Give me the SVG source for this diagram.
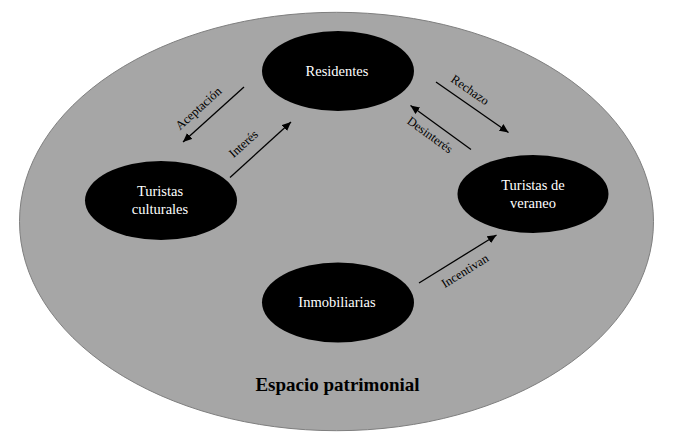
<svg xmlns="http://www.w3.org/2000/svg" width="679" height="444" viewBox="0 0 679 444">
  <style>
    .node { fill: #000000; }
    .ntext { fill: #ffffff; font-size: 14.5px; text-anchor: middle; }
    .conn { stroke: #000000; stroke-width: 1.3; fill: none; marker-end: url(#arr); }
    .ltext { fill: #000000; font-size: 12.5px; text-anchor: middle; }
    .title { fill: #000000; font-size: 19px; font-weight: bold; text-anchor: middle; }
  </style>
  <defs>
    <marker id="arr" markerUnits="userSpaceOnUse" markerWidth="10" markerHeight="8" refX="9" refY="4" orient="auto">
      <path d="M0,0 L9,4 L0,8 Z" fill="#000000"/>
    </marker>
  </defs>
  <rect x="0" y="0" width="679" height="444" fill="#ffffff"/>
  <g id="espacio">
    <ellipse cx="336.5" cy="221.5" rx="317" ry="209.2" fill="#a6a6a6" stroke="#7f7f7f" stroke-width="1"/>
    <text class="title" font-family="'Liberation Serif', 'DejaVu Serif', serif" x="337.5" y="390.5">Espacio patrimonial</text>
  </g>
  <g font-family="'Liberation Serif', 'DejaVu Serif', serif">
  <g id="residentes">
    <ellipse class="node" cx="338" cy="71" rx="76" ry="40"/>
    <text class="ntext" x="337" y="76">Residentes</text>
  </g>
  <g id="turistas-culturales">
    <ellipse class="node" cx="161" cy="200.5" rx="76" ry="39.5"/>
    <text class="ntext" x="160" y="196">Turistas</text>
    <text class="ntext" x="160" y="214">culturales</text>
  </g>
  <g id="turistas-veraneo">
    <ellipse class="node" cx="533" cy="194" rx="75.5" ry="39"/>
    <text class="ntext" x="533" y="190">Turistas de</text>
    <text class="ntext" x="533" y="208">veraneo</text>
  </g>
  <g id="inmobiliarias">
    <ellipse class="node" cx="338" cy="302.5" rx="76" ry="40"/>
    <text class="ntext" x="337" y="307">Inmobiliarias</text>
  </g>
  <g id="connectors">
    <line class="conn" x1="244" y1="87" x2="183" y2="142"/>
    <text class="ltext" transform="translate(198.5,108.5) rotate(-42)" x="0" y="4">Aceptación</text>
    <line class="conn" x1="230" y1="177.5" x2="291" y2="122"/>
    <text class="ltext" transform="translate(243.5,144) rotate(-42)" x="0" y="4">Interés</text>
    <line class="conn" x1="436" y1="82" x2="508.5" y2="132.5"/>
    <text class="ltext" transform="translate(470,90) rotate(35)" x="0" y="4">Rechazo</text>
    <line class="conn" x1="471" y1="149.5" x2="410.5" y2="105.5"/>
    <text class="ltext" transform="translate(430,135) rotate(36)" x="0" y="4">Desinterés</text>
    <line class="conn" x1="419" y1="283" x2="496.5" y2="235"/>
    <text class="ltext" transform="translate(465,271) rotate(-32)" x="0" y="4">Incentivan</text>
  </g>
  </g>
</svg>
